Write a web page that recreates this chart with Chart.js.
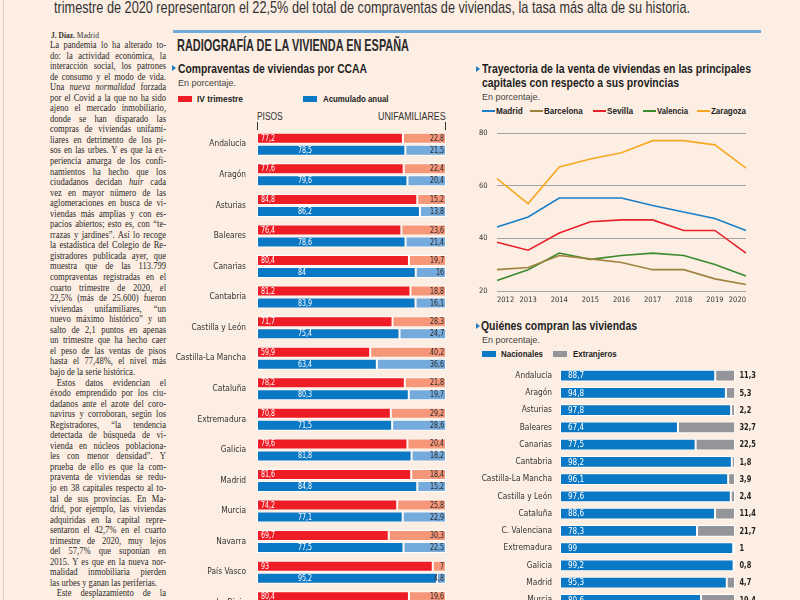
<!DOCTYPE html>
<html lang="es">
<head>
<meta charset="utf-8">
<title>Radiografía de la vivienda en España</title>
<script src="https://cdn.jsdelivr.net/npm/chart.js@4.4.1/dist/chart.umd.min.js"></script>
<style>
  html, body { margin: 0; padding: 0; }
  body {
    width: 800px; height: 600px; overflow: hidden; position: relative;
    background: #fdeee3; color: #2a2a2a;
    font-family: 'Liberation Sans', Arial, sans-serif;
  }
  .abs { position: absolute; white-space: nowrap; transform-origin: 0 50%; }
  #edge { left: 3px; top: 0; width: 1px; height: 600px; background: #d8cfc8; }
  #headline { left: 54px; top: -2px; font-size: 17px; line-height: 19px; color: #333; }
  #topbar { left: 173px; top: 30px; width: 588px; height: 3px; background: #6eabdf; }
  #maintitle { left: 177px; top: 36px; font-size: 17px; line-height: 19px; font-weight: bold; color: #2b2b2b; }
  .sub { font-size: 12px; line-height: 14px; font-weight: bold; color: #1e1e1e; }
  .arrow { position: absolute; width: 0; height: 0; border-top: 3px solid transparent; border-bottom: 3px solid transparent; border-left: 4px solid #1d7cc4; }
  .unit { font-size: 9.5px; line-height: 11px; color: #444; }
  .leg { font-size: 9px; line-height: 10px; font-weight: bold; color: #222; }
  .sw { position: absolute; width: 14px; height: 6px; }
  .ln-sw { position: absolute; width: 13px; height: 2px; }
  .hdr { font-size: 10px; line-height: 11px; color: #333; }
  .tick { position: absolute; width: 1px; height: 8px; background: #333; }
  canvas { position: absolute; }
  #col {
    position: absolute; left: 50px; top: 40px; width: 136px;
    transform: scaleX(0.853); transform-origin: 0 0;
    font-family: 'Liberation Serif', 'DejaVu Serif', serif; font-size: 10px; line-height: 10.55px; color: #2a2a2a;
  }
  #col div { text-align: justify; text-align-last: justify; white-space: nowrap; height: 10.55px; }
  #col div.end { text-align-last: left; }
  #col div.ind { text-indent: 8px; }
  #byline { left: 51px; top: 31px; font-size: 7.5px; font-family: 'Liberation Serif', serif; color: #333; }
</style>
</head>
<body>
<div id="edge" class="abs"></div>
<div id="headline" class="abs" data-w="636">trimestre de 2020 representaron el 22,5% del total de compraventas de viviendas, la tasa más alta de su historia.</div>

<div id="byline" class="abs"><b>J. Díaz.</b> Madrid</div>
<div id="col">
  <div>La pandemia lo ha alterado to-</div>
  <div>do: la actividad económica, la</div>
  <div>interacción social, los patrones</div>
  <div>de consumo y el modo de vida.</div>
  <div>Una <i>nueva normalidad</i> forzada</div>
  <div>por el Covid a la que no ha sido</div>
  <div>ajeno el mercado inmobiliario,</div>
  <div>donde se han disparado las</div>
  <div>compras de viviendas unifami-</div>
  <div>liares en detrimento de los pi-</div>
  <div>sos en las urbes. Y es que la ex-</div>
  <div>periencia amarga de los confi-</div>
  <div>namientos ha hecho que los</div>
  <div>ciudadanos decidan <i>huir</i> cada</div>
  <div>vez en mayor número de las</div>
  <div>aglomeraciones en busca de vi-</div>
  <div>viendas más amplias y con es-</div>
  <div>pacios abiertos; esto es, con “te-</div>
  <div>rrazas y jardines”. Así lo recoge</div>
  <div>la estadística del Colegio de Re-</div>
  <div>gistradores publicada ayer, que</div>
  <div>muestra que de las 113.799</div>
  <div>compraventas registradas en el</div>
  <div>cuarto trimestre de 2020, el</div>
  <div>22,5% (más de 25.600) fueron</div>
  <div>viviendas unifamiliares, “un</div>
  <div>nuevo máximo histórico” y un</div>
  <div>salto de 2,1 puntos en apenas</div>
  <div>un trimestre que ha hecho caer</div>
  <div>el peso de las ventas de pisos</div>
  <div>hasta el 77,48%, el nivel más</div>
  <div class="end">bajo de la serie histórica.</div>
  <div class="ind">Estos datos evidencian el</div>
  <div>éxodo emprendido por los ciu-</div>
  <div>dadanos ante el azote del coro-</div>
  <div>navirus y corroboran, según los</div>
  <div>Registradores, “la tendencia</div>
  <div>detectada de búsqueda de vi-</div>
  <div>vienda en núcleos poblaciona-</div>
  <div>les con menor densidad”. Y</div>
  <div>prueba de ello es que la com-</div>
  <div>praventa de viviendas se redu-</div>
  <div>jo en 38 capitales respecto al to-</div>
  <div>tal de sus provincias. En Ma-</div>
  <div>drid, por ejemplo, las viviendas</div>
  <div>adquiridas en la capital repre-</div>
  <div>sentaron el 42,7% en el cuarto</div>
  <div>trimestre de 2020, muy lejos</div>
  <div>del 57,7% que suponían en</div>
  <div>2015. Y es que en la nueva nor-</div>
  <div>malidad inmobiliaria pierden</div>
  <div class="end">las urbes y ganan las periferias.</div>
  <div class="ind">Este desplazamiento de la</div>
</div>

<div id="topbar" class="abs"></div>
<div id="maintitle" class="abs" data-w="232">RADIOGRAFÍA DE LA VIVIENDA EN ESPAÑA</div>

<!-- left block -->
<div class="arrow" style="left:172px; top:65px;"></div>
<div class="abs sub" style="left:178px; top:62px;" data-w="189">Compraventas de viviendas por CCAA</div>
<div class="abs unit" style="left:178px; top:76.5px;" data-w="58">En porcentaje.</div>
<div class="sw" style="left:178px; top:95.5px; background:#ee1c25;"></div>
<div class="abs leg" style="left:197px; top:93.5px;" data-w="46">IV trimestre</div>
<div class="sw" style="left:303px; top:95.5px; background:#0a78c5;"></div>
<div class="abs leg" style="left:322.5px; top:93.5px;" data-w="65.5">Acumulado anual</div>
<div class="abs hdr" style="left:257px; top:111px;" data-w="25.7">PISOS</div>
<div class="abs hdr" style="left:378.3px; top:111px;" data-w="67.7">UNIFAMILIARES</div>
<div class="tick" style="left:257px; top:121.5px;"></div>
<div class="tick" style="left:445px; top:121.5px;"></div>
<canvas id="ccaaChart" style="left:170px; top:128px;" width="290" height="490"></canvas>

<!-- right top block -->
<div class="arrow" style="left:476px; top:66px;"></div>
<div class="abs sub" style="left:481.7px; top:62px;" data-w="269">Trayectoria de la venta de viviendas en las principales</div>
<div class="abs sub" style="left:481.7px; top:76px;" data-w="197">capitales con respecto a sus provincias</div>
<div class="abs unit" style="left:482px; top:91px;" data-w="58">En porcentaje.</div>
<div id="lineLegend"></div>
<canvas id="lineChart" style="left:470px; top:125px;" width="290" height="180"></canvas>

<!-- right bottom block -->
<div class="arrow" style="left:476px; top:323px;"></div>
<div class="abs sub" style="left:481px; top:319px;" data-w="156">Quiénes compran las viviendas</div>
<div class="abs unit" style="left:481.5px; top:334px;" data-w="58">En porcentaje.</div>
<div class="sw" style="left:482px; top:350.5px; background:#0a78c5;"></div>
<div class="abs leg" style="left:500.7px; top:348.5px;" data-w="42">Nacionales</div>
<div class="sw" style="left:553px; top:350.5px; background:#939598;"></div>
<div class="abs leg" style="left:573px; top:348.5px;" data-w="43.7">Extranjeros</div>
<canvas id="buyersChart" style="left:470px; top:366px;" width="330" height="250"></canvas>

<script>
// --- DATA ---
const ccaa = ['Andalucía', 'Aragón', 'Asturias', 'Baleares', 'Canarias', 'Cantabria', 'Castilla y León',
  'Castilla-La Mancha', 'Cataluña', 'Extremadura', 'Galicia', 'Madrid', 'Murcia', 'Navarra', 'País Vasco', 'La Rioja'];
const pisosTrim = [77.2, 77.6, 84.8, 76.4, 80.4, 81.2, 71.7, 59.9, 78.2, 70.8, 79.6, 81.6, 74.2, 69.7, 93, 80.4];
const unifTrim = [22.8, 22.4, 15.2, 23.6, 19.7, 18.8, 28.3, 40.2, 21.8, 29.2, 20.4, 18.4, 25.8, 30.3, 7, 19.6];
const pisosAnual = [78.5, 79.6, 86.2, 78.6, 84, 83.9, 75.4, 63.4, 80.3, 71.5, 81.8, 84.8, 77.1, 77.5, 95.2, 82.3];
const unifAnual = [21.5, 20.4, 13.8, 21.4, 16, 16.1, 24.7, 36.6, 19.7, 28.6, 18.2, 15.2, 22.9, 22.5, 4.8, 17.7];

const years = ['2012', '2013', '2014', '2015', '2016', '2017', '2018', '2019', '2020'];
const madrid = [44.3, 48.1, 55.3, 55.3, 55.3, 52.5, 50, 47.5, 43];
const barcelona = [28.1, 28.9, 33.5, 32.2, 30.8, 28.1, 28.1, 24.6, 22.5];
const sevilla = [38.5, 35.5, 42, 46.3, 47, 47, 43, 43, 34.4];
const valencia = [24, 28.1, 34.4, 32, 33.5, 34.4, 33.5, 30.1, 25.7];
const zaragoza = [62.7, 53.2, 67.1, 70.1, 72.5, 77.1, 77.1, 75.5, 66.7];
const yTicks = [20, 40, 60, 80];

const regiones = ['Andalucía', 'Aragón', 'Asturias', 'Baleares', 'Canarias', 'Cantabria', 'Castilla-La Mancha',
  'Castilla y León', 'Cataluña', 'C. Valenciana', 'Extremadura', 'Galicia', 'Madrid', 'Murcia'];
const nacionales = [88.7, 94.8, 97.8, 67.4, 77.5, 98.2, 96.1, 97.6, 88.6, 78.3, 99, 99.2, 95.3, 80.6];
const extranjeros = [11.3, 5.3, 2.2, 32.7, 22.5, 1.8, 3.9, 2.4, 11.4, 21.7, 1, 0.8, 4.7, 19.4];

// --- STYLE ---
const FONT = "'DejaVu Sans Condensed', 'Liberation Sans', sans-serif";
const RED = '#ee1c25', SALMON = '#f6977a', BLUE = '#0a78c5', LIGHTBLUE = '#75aadc', GREY = '#939598';
Chart.defaults.font.family = FONT;
Chart.defaults.color = '#333';
Chart.defaults.animation = false;

// squeeze the html headings to the widths measured on the page
document.querySelectorAll('[data-w]').forEach((el) => {
  const w = el.getBoundingClientRect().width;
  el.style.transform = 'scaleX(' + (parseFloat(el.dataset.w) / w) + ')';
});

const fmt = (v) => String(v).replace('.', ',');

// text drawn a bit narrower, the paper uses a condensed face
function squeezeText(ctx, txt, x, y, align, sx) {
  ctx.save();
  ctx.translate(x, y);
  ctx.scale(sx, 1);
  ctx.textAlign = align;
  ctx.fillText(txt, 0, 0);
  ctx.restore();
}

// kill the extra vertical room chart.js keeps for the category labels
const noPad = (w) => (s) => { s.width = w; s.paddingTop = 0; s.paddingBottom = 0; };

const ccaaLabels = {
  id: 'ccaaLabels',
  afterDatasetsDraw(chart) {
    const ctx = chart.ctx;
    const zero = chart.scales.x.getPixelForValue(0);
    ctx.save();
    ctx.font = '8px ' + FONT;
    ctx.textBaseline = 'middle';
    chart.data.datasets.forEach((ds, i) => {
      chart.getDatasetMeta(i).data.forEach((bar, j) => {
        const txt = fmt(ds.data[j]);
        if (i === 0) {
          ctx.fillStyle = '#fff';
          squeezeText(ctx, txt, zero + 4, bar.y + 0.5, 'left', 0.88);
        } else if (i === 2) {
          ctx.fillStyle = '#fff';
          squeezeText(ctx, txt, zero + 41, bar.y + 0.5, 'left', 0.88);
        } else {
          ctx.fillStyle = '#2a2a2a';
          squeezeText(ctx, txt, bar.x - 2, bar.y + 0.5, 'right', 0.88);
        }
      });
    });
    ctx.restore();
  }
};

const buyerLabels = {
  id: 'buyerLabels',
  afterDatasetsDraw(chart) {
    const ctx = chart.ctx;
    const zero = chart.scales.x.getPixelForValue(0);
    const end = chart.scales.x.getPixelForValue(100);
    ctx.save();
    ctx.textBaseline = 'middle';
    chart.getDatasetMeta(0).data.forEach((bar, j) => {
      ctx.font = '8.5px ' + FONT;
      ctx.fillStyle = '#fff';
      squeezeText(ctx, fmt(nacionales[j]), zero + 8, bar.y + 0.5, 'left', 0.95);
      ctx.font = 'bold 9px ' + FONT;
      ctx.fillStyle = '#222';
      squeezeText(ctx, fmt(extranjeros[j]), end + 4.5, bar.y + 0.5, 'left', 0.82);
    });
    ctx.restore();
  }
};

// --- CHART 1: compraventas por CCAA ---
function barSet(label, data, color, stack) {
  return {
    label, data, stack,
    backgroundColor: color,
    borderColor: '#ffffff',
    borderWidth: 1,
    borderSkipped: false,
    categoryPercentage: 0.786,
    barPercentage: 0.917
  };
}

new Chart(document.getElementById('ccaaChart'), {
  type: 'bar',
  data: {
    labels: ccaa,
    datasets: [
      barSet('Pisos IV trimestre', pisosTrim, RED, 'trim'),
      barSet('Unifamiliares IV trimestre', unifTrim, SALMON, 'trim'),
      barSet('Pisos acumulado anual', pisosAnual, BLUE, 'anual'),
      barSet('Unifamiliares acumulado anual', unifAnual, LIGHTBLUE, 'anual')
    ]
  },
  options: {
    indexAxis: 'y',
    responsive: false,
    layout: { padding: { top: 1, right: 14, bottom: 0, left: 0 } },
    scales: {
      x: { stacked: true, min: 0, max: 100, display: false },
      y: {
        stacked: true,
        grid: { display: false, drawTicks: false },
        border: { display: false },
        ticks: { font: { size: 8.3 }, color: '#333', padding: 11 },
        afterFit: noPad(87)
      }
    },
    plugins: { legend: { display: false }, tooltip: { enabled: false } }
  },
  plugins: [ccaaLabels]
});

// --- CHART 2: trayectoria capitales ---
const cities = [
  ['Madrid', madrid, '#1a7fc9'],
  ['Barcelona', barcelona, '#a0823f'],
  ['Sevilla', sevilla, '#e8202a'],
  ['Valencia', valencia, '#3b8a2c'],
  ['Zaragoza', zaragoza, '#f7a823']
];
const legendX = [481.7, 530, 592.7, 643, 696.7];
const legendW = [26.7, 38.7, 26, 31, 35];
const legendBox = document.getElementById('lineLegend');
cities.forEach((c, i) => {
  const sw = document.createElement('div');
  sw.className = 'ln-sw';
  sw.style.left = legendX[i] + 'px';
  sw.style.top = '110px';
  sw.style.background = c[2];
  legendBox.appendChild(sw);
  const t = document.createElement('div');
  t.className = 'abs leg';
  t.style.left = (legendX[i] + 14) + 'px';
  t.style.top = '105.8px';
  t.textContent = c[0];
  legendBox.appendChild(t);
  t.style.transform = 'scaleX(' + (legendW[i] / t.getBoundingClientRect().width) + ')';
});

new Chart(document.getElementById('lineChart'), {
  type: 'line',
  data: {
    labels: years,
    datasets: cities.map((c) => ({
      label: c[0], data: c[1], borderColor: c[2], backgroundColor: c[2],
      borderWidth: 1.6, pointRadius: 0, tension: 0, fill: false
    }))
  },
  options: {
    responsive: false,
    layout: { padding: { top: 8, right: 14, bottom: 0, left: 9 } },
    scales: {
      x: {
        grid: { display: false, drawTicks: false },
        border: { display: false },
        ticks: { font: { size: 7.5 }, color: '#333', padding: 5, align: 'inner', maxRotation: 0 },
        afterFit: (s) => { s.height = 14; }
      },
      y: {
        min: 20, max: 80,
        afterBuildTicks: (s) => { s.ticks = yTicks.map((v) => ({ value: v })); },
        grid: { color: '#a3a3a3', lineWidth: 1, drawTicks: false },
        border: { display: false },
        ticks: { font: { size: 7.5 }, color: '#333', crossAlign: 'far' },
        afterFit: (s) => { s.width = 18; }
      }
    },
    plugins: { legend: { display: false }, tooltip: { enabled: false } }
  }
});

// --- CHART 3: quiénes compran ---
new Chart(document.getElementById('buyersChart'), {
  type: 'bar',
  data: {
    labels: regiones,
    datasets: [
      { label: 'Nacionales', data: nacionales, backgroundColor: BLUE },
      { label: 'Extranjeros', data: extranjeros, backgroundColor: GREY }
    ].map((d) => Object.assign(d, {
      borderColor: '#ffffff', borderWidth: 1, borderSkipped: false,
      categoryPercentage: 1, barPercentage: 0.68
    }))
  },
  options: {
    indexAxis: 'y',
    responsive: false,
    layout: { padding: { top: 1, right: 65, bottom: 7.5, left: 0 } },
    scales: {
      x: { stacked: true, min: 0, max: 100, display: false },
      y: {
        stacked: true,
        grid: { display: false, drawTicks: false },
        border: { display: false },
        ticks: { font: { size: 8.3 }, color: '#333', padding: 8 },
        afterFit: noPad(90)
      }
    },
    plugins: { legend: { display: false }, tooltip: { enabled: false } }
  },
  plugins: [buyerLabels]
});
</script>
</body>
</html>
